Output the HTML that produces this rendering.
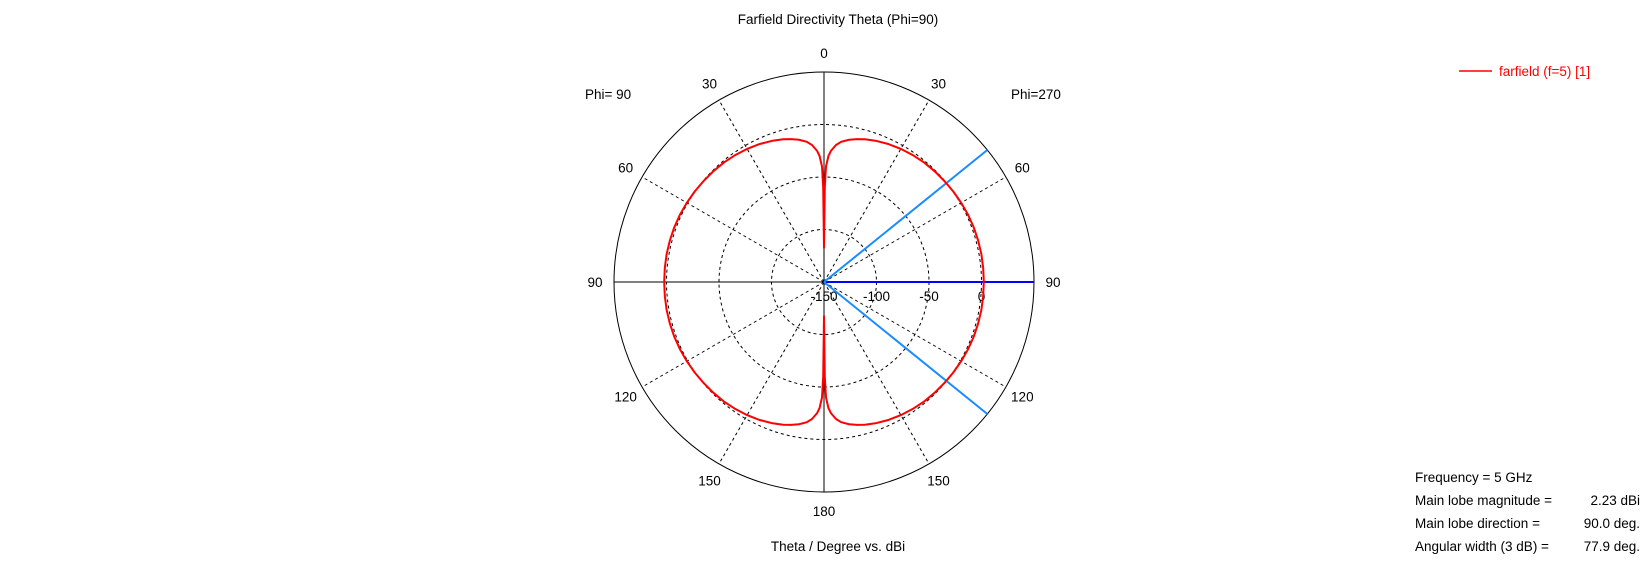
<!DOCTYPE html>
<html><head><meta charset="utf-8"><style>
body{margin:0;background:#fff;}
svg{display:block;font-family:"Liberation Sans",sans-serif;font-size:13.5px;}
</style></head><body>
<svg id="chart" width="1648" height="563" viewBox="0 0 1648 563">
<text x="838" y="24" text-anchor="middle">Farfield Directivity Theta (Phi=90)</text>
<text x="838" y="551" text-anchor="middle">Theta / Degree vs. dBi</text>
<text x="585" y="99">Phi= 90</text>
<text x="1011" y="99">Phi=270</text>
<g>
<line x1="1459" y1="71" x2="1492" y2="71" stroke="#ff0000" stroke-width="1.5"/>
<text x="1499" y="76" fill="#ff0000">farfield (f=5) [1]</text>
</g>
<g>
<text x="1415" y="482">Frequency = 5 GHz</text>
<text x="1415" y="505">Main lobe magnitude =</text>
<text x="1640" y="505" text-anchor="end">2.23 dBi</text>
<text x="1415" y="528">Main lobe direction =</text>
<text x="1640" y="528" text-anchor="end">90.0 deg.</text>
<text x="1415" y="551">Angular width (3 dB) =</text>
<text x="1640" y="551" text-anchor="end">77.9 deg.</text>
</g>
<g id="grid"></g>
<g id="marks"></g>
</svg>
<script>
const thetaDeg = [0, 0.5, 1, 2, 3, 5, 7, 10, 13, 16, 20, 25, 30, 35, 40, 45, 50, 55, 60, 65, 70, 75, 80, 85, 90];
const dirDb = [-118, -60, -40, -30, -25, -19, -15.5, -12.5, -10.3, -8.6, -6.8, -5.0, -3.6, -2.5, -1.6, -0.9, -0.3, 0.3, 0.9, 1.4, 1.8, 2.05, 2.17, 2.22, 2.23];
const ringDb = [-150, -100, -50, 0, 50];
const ringLabels = ["-150", "-100", "-50", "0"];
const angleTicks = [0, 30, 60, 90, 120, 150, 180];
const mainLobeDir = 90;
const beamWidth = 77.9;

const NS = "http://www.w3.org/2000/svg";
const cx = 824, cy = 282, R = 210;
const dbMin = -150, dbMax = 50;
const rScale = d => (Math.max(d, dbMin) - dbMin) / (dbMax - dbMin) * R;
// theta measured from top, positive = right side
const pt = (th, r) => [cx + r * Math.sin(th * Math.PI / 180), cy - r * Math.cos(th * Math.PI / 180)];
function mk(tag, attrs, parent) { const e = document.createElementNS(NS, tag); for (const k in attrs) e.setAttribute(k, attrs[k]); parent.appendChild(e); return e; }
const grid = document.getElementById('grid'), marks = document.getElementById('marks');

ringDb.forEach((d, i) => {
  const last = i === ringDb.length - 1;
  const c = mk('circle', {cx, cy, r: rScale(d), fill: 'none', stroke: '#000', 'stroke-width': 1, 'stroke-dasharray': last ? 'none' : '3,3'}, grid);
  
  
});
ringLabels.forEach((t, i) => {
  const e = mk('text', {x: cx + rScale(ringDb[i]), y: cy + 19, 'text-anchor': 'middle'}, grid);
  e.textContent = t;
  
  
});
angleTicks.forEach(a => {
  [1, -1].forEach(s => {
    if ((a === 0 || a === 180) && s === -1) return;
    const th = a * s;
    const solid = a % 90 === 0;
    const [x2, y2] = pt(th, R);
    const l = mk('line', {x1: cx, y1: cy, x2, y2, stroke: '#000', 'stroke-width': 1, 'stroke-dasharray': solid ? 'none' : '3,3'}, grid);
    
    
    const [tx, ty] = pt(th, R + 19);
    const e = mk('text', {x: tx, y: ty + 5, 'text-anchor': 'middle'}, grid);
    e.textContent = String(a);
    
    
  });
});

// blue beam lines
[[mainLobeDir, '#0000ff'], [mainLobeDir - beamWidth / 2, '#1a8cff'], [mainLobeDir + beamWidth / 2, '#1a8cff']].forEach(([a, col]) => {
  const [x2, y2] = pt(a, R);
  const l = mk('line', {x1: cx, y1: cy, x2, y2, stroke: col, 'stroke-width': 2}, marks);
  
  
});

// pattern: build full 360 from symmetric data (0..90 mirrored to 90..180, both sides)
let full = [];
for (let i = 0; i < thetaDeg.length; i++) full.push([thetaDeg[i], dirDb[i]]);
for (let i = thetaDeg.length - 2; i >= 0; i--) full.push([180 - thetaDeg[i], dirDb[i]]);
let pts = [];
full.forEach(([t, d]) => pts.push(pt(t, rScale(d))));
for (let i = full.length - 2; i >= 1; i--) pts.push(pt(-full[i][0], rScale(full[i][1])));
const p = mk('path', {d: 'M' + pts.map(q => q[0].toFixed(1) + ',' + q[1].toFixed(1)).join('L') + 'Z', fill: 'none', stroke: '#ff0000', 'stroke-width': 2}, marks);


</script>
</body></html>
